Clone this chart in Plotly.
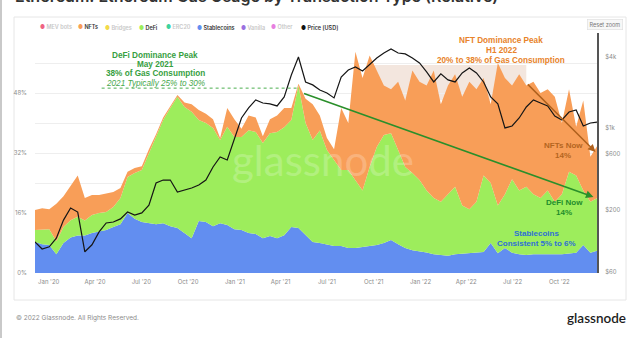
import pandas as pd
import plotly.graph_objects as go

# ---------------------------------------------------------------------------
# Data: share of Ethereum gas used per transaction type (%), every two weeks,
# plus the ETH price (USD) on the same dates.
# ---------------------------------------------------------------------------
dates = pd.date_range("2019-12-05", periods=80, freq="14D")

stablecoins = [
    8.3, 7.7, 7.5, 5.0, 8.0, 9.5, 10.0, 10.0, 10.7, 11.0,
    11.5, 12.3, 13.0, 16.0, 14.5, 13.6, 13.3, 13.0, 13.3, 12.5,
    12.0, 10.7, 9.3, 13.9, 13.6, 12.5, 13.3, 12.8, 11.7, 11.5,
    10.7, 10.4, 9.3, 9.9, 9.3, 10.1, 12.3, 12.0, 10.1, 8.3,
    8.0, 7.5, 7.2, 7.2, 6.7, 6.7, 6.9, 7.2, 7.5, 8.0,
    8.8, 7.7, 6.7, 6.1, 5.9, 5.5, 5.0, 4.8, 4.6, 5.0,
    5.2, 5.3, 5.4, 5.6, 8.0, 5.3, 6.7, 5.4, 5.0, 4.8,
    5.0, 5.0, 4.9, 4.8, 5.0, 5.2, 5.4, 7.5, 5.4, 6.0,
]

defi = [
    3.2, 3.8, 4.2, 3.5, 4.3, 4.6, 5.0, 4.0, 4.8, 5.0,
    4.8, 5.3, 7.0, 9.6, 12.2, 13.9, 18.7, 23.3, 27.5, 31.5,
    35.0, 33.6, 33.7, 26.9, 26.4, 26.2, 22.2, 26.2, 24.6, 24.8,
    27.4, 27.2, 25.4, 27.4, 28.3, 28.8, 28.5, 38.0, 29.9, 27.2,
    30.0, 25.3, 22.8, 20.3, 20.8, 18.1, 15.1, 21.1, 26.1, 28.8,
    28.5, 25.1, 21.6, 20.6, 18.9, 16.5, 15.0, 14.2, 16.4, 18.0,
    12.8, 11.7, 13.6, 20.4, 16.0, 12.7, 14.3, 19.6, 17.0, 18.2,
    16.0, 15.0, 17.1, 14.2, 16.0, 21.8, 20.6, 14.5, 13.6, 14.0,
]

nfts = [
    5.3, 5.8, 5.3, 10.0, 8.2, 9.1, 11.0, 6.0, 5.3, 4.8,
    5.0, 4.0, 2.7, 1.4, 1.3, 1.0, 1.0, 0.7, 0.7, 0.5,
    0.5, 1.2, 2.0, 2.7, 2.5, 2.3, 0.5, 5.0, 4.7, 2.2,
    3.9, 3.9, 1.8, 3.7, 4.4, 5.1, 3.2, 0.5, 6.5, 9.5,
    4.0, 3.2, 3.0, 16.5, 12.5, 34.2, 30.0, 29.7, 20.4, 13.2,
    11.7, 18.2, 17.7, 27.3, 26.2, 28.0, 34.0, 26.0, 29.0, 30.0,
    29.0, 34.0, 30.0, 26.0, 21.0, 38.0, 31.0, 25.0, 31.0, 27.0,
    30.0, 28.0, 27.0, 28.0, 19.0, 22.0, 13.0, 24.0, 12.0, 14.0,
]

price_usd = [
    108, 94, 98, 116, 165, 209, 193, 89, 102, 131,
    156, 159, 169, 193, 182, 190, 221, 340, 360, 360,
    285, 297, 308, 327, 360, 464, 564, 532, 817, 1206,
    1465, 1713, 1615, 1585, 1524, 1815, 2786, 3955, 2432, 2296,
    2080, 1963, 1782, 2680, 3070, 3258, 3013, 3451, 3882, 4276,
    4624, 4276, 4198, 3882, 3524, 2958, 2432, 2844, 2529, 2432,
    2897, 3192, 2897, 2432, 1815, 1585, 993, 1032, 1206, 1493,
    1713, 1615, 1524, 1253, 1159, 1355, 1409, 1032, 1094, 1115,
]

share_ticks = [0, 16, 32, 48]
share_tick_text = ["0%", "16%", "32%", "48%"]
share_minor_ticks = [8, 24, 40, 56]
price_ticks = [60, 200, 600, 1000, 4000]
price_tick_text = ["$60", "$200", "$600", "$1k", "$4k"]

legend_items = [
    ("MEV bots", "#ef6383", False),
    ("NFTs", "#f89e58", True),
    ("Bridges", "#f2da4a", False),
    ("DeFi", "#9ded5c", True),
    ("ERC20", "#3fd39f", False),
    ("Stablecoins", "#628ef0", True),
    ("Vanilla", "#9b70e0", False),
    ("Other", "#e77fe0", False),
    ("Price [USD]", "#111111", True),
]
legend_x = [38, 76, 103, 137, 164, 195, 239, 269, 299]

C_STABLE = "#628ef0"
C_DEFI = "#9ded5c"
C_NFT = "#f89e58"

# ---------------------------------------------------------------------------
# Page geometry helpers (pixel -> paper coordinates)
# ---------------------------------------------------------------------------
W, H = 640, 338
ML, MR, MT, MB = 35, 43, 33, 65
PW, PH = W - ML - MR, H - MT - MB


def px(x):
    return (x - ML) / PW


def py(y):
    return (H - MB - y) / PH


fig = go.Figure()

fig.add_trace(go.Scatter(
    x=dates, y=stablecoins, name="Stablecoins", mode="lines",
    stackgroup="gas", line=dict(width=0, color=C_STABLE), fillcolor=C_STABLE,
))
fig.add_trace(go.Scatter(
    x=dates, y=defi, name="DeFi", mode="lines",
    stackgroup="gas", line=dict(width=0, color=C_DEFI), fillcolor=C_DEFI,
))
fig.add_trace(go.Scatter(
    x=dates, y=nfts, name="NFTs", mode="lines",
    stackgroup="gas", line=dict(width=0, color=C_NFT), fillcolor=C_NFT,
))
fig.add_trace(go.Scatter(
    x=dates, y=price_usd, name="Price [USD]", mode="lines", yaxis="y2",
    line=dict(color="#151515", width=1.2),
))

tick_font = dict(family="Inter", size=6, color="#8c8c8c")

fig.update_layout(
    width=W, height=H,
    margin=dict(l=ML, r=MR, t=MT, b=MB),
    paper_bgcolor="white",
    plot_bgcolor="rgba(0,0,0,0)",
    showlegend=False,
    xaxis=dict(
        type="date", range=["2019-12-05", "2022-12-14"],
        tick0="2020-01-01", dtick="M3", tickformat="%b '%y",
        showgrid=False, zeroline=False, showline=False, ticks="",
        tickfont=tick_font, ticklabelstandoff=4,
    ),
    yaxis=dict(
        range=[0, 64], tickvals=share_ticks, ticktext=share_tick_text,
        showgrid=True, gridcolor="#eeeeee", gridwidth=1,
        minor=dict(tickvals=share_minor_ticks, showgrid=True,
                   gridcolor="#eeeeee", ticks=""),
        zeroline=False, showline=False, ticks="",
        tickfont=tick_font, ticklabelstandoff=7,
    ),
    yaxis2=dict(
        overlaying="y", side="right", type="log", range=[1.77, 3.80],
        tickvals=price_ticks, ticktext=price_tick_text,
        showgrid=False, zeroline=False, ticks="",
        showline=True, linecolor="#555555", linewidth=2,
        tickfont=tick_font, ticklabelstandoff=5,
    ),
)

shapes = [
    # page edge
    dict(type="rect", xref="paper", yref="paper",
         x0=px(0), x1=px(2), y0=py(338), y1=py(0),
         fillcolor="#c9c9c9", line=dict(width=0), layer="below"),
    # chart card
    dict(type="rect", xref="paper", yref="paper",
         x0=px(14), x1=px(626), y0=py(300), y1=py(17),
         fillcolor="white", line=dict(color="#e6e6e6", width=1), layer="below"),
    # H1 2022 highlight band
    dict(type="rect", xref="x", yref="y",
         x0="2021-10-01", x1="2022-07-28", y0=46.1, y1=55.5,
         fillcolor="#f3e6de", line=dict(width=0), layer="below"),
    # DeFi peak guide
    dict(type="line", xref="x", yref="y",
         x0="2020-04-14", x1="2021-05-08", y0=49.3, y1=49.3,
         line=dict(color="#4cae4f", width=1, dash="dot")),
]
fig.update_layout(shapes=shapes)

ann = []


def text_line(text, x, y, color, size=8.2, bold=True, italic=False,
              family="Liberation Sans"):
    body = text
    if bold:
        body = f"<b>{body}</b>"
    if italic:
        body = f"<i>{body}</i>"
    return dict(
        text=body, xref="paper", yref="paper", x=px(x), y=py(y),
        xanchor="center", yanchor="middle", showarrow=False,
        font=dict(family=family, size=size, color=color),
    )


# title (runs off the top of the page)
ann.append(dict(
    text="Ethereum: Ethereum Gas Usage by Transaction Type (Relative)",
    xref="paper", yref="paper", x=px(13), y=py(8.5),
    xanchor="left", yanchor="bottom", showarrow=False,
    font=dict(family="Inter", size=16, color="#333333", weight=600),
))

# legend row
for (label, color, active), lx in zip(legend_items, legend_x):
    txt_color = "#333333" if active else "#c8c8c8"
    ann.append(dict(
        text=f"<span style='color:{color}'>●</span> {label}",
        xref="paper", yref="paper", x=px(lx), y=py(27),
        xanchor="left", yanchor="middle", showarrow=False,
        font=dict(family="Inter", size=5.5, color=txt_color, weight=600),
    ))

# reset zoom button
ann.append(dict(
    text="Reset zoom", xref="paper", yref="paper", x=px(605), y=py(24.5),
    xanchor="center", yanchor="middle", showarrow=False,
    font=dict(family="Inter", size=5.5, color="#777777"),
    bgcolor="#f7f7f7", bordercolor="#dddddd", borderwidth=0.6, borderpad=2,
))

# watermark
ann.append(dict(
    text="glassnode", xref="paper", yref="paper", x=px(323), y=py(160),
    xanchor="center", yanchor="middle", showarrow=False,
    font=dict(family="Lato", size=42, color="rgba(255,255,255,0.22)"),
))

# DeFi peak callout
DEFI_TXT = "#37a03f"
ann.append(text_line("DeFi Dominance Peak", 155, 55, DEFI_TXT))
ann.append(text_line("May 2021", 155, 64.5, DEFI_TXT))
ann.append(text_line("38% of Gas Consumption", 155, 74, DEFI_TXT))
ann.append(text_line("2021 Typically 25% to 30%", 155, 83.5, "#46a84d",
                     bold=False, italic=True))

# NFT peak callout
NFT_TXT = "#e8832a"
ann.append(text_line("NFT Dominance Peak", 501, 40.5, NFT_TXT))
ann.append(text_line("H1 2022", 501, 50.5, NFT_TXT))
ann.append(text_line("20% to 38% of Gas Consumption", 501, 60.5, NFT_TXT))

# current-share callouts
ann.append(text_line("NFTs Now", 563, 145, "#b4651f", size=8))
ann.append(text_line("14%", 563, 155, "#b4651f", size=8))
ann.append(text_line("DeFi Now", 564, 203, "#1f8c2b", size=8))
ann.append(text_line("14%", 564, 212.5, "#1f8c2b", size=8))
ann.append(text_line("Stablecoins", 536, 233.5, "#2e6fd5", size=8))
ann.append(text_line("Consistent 5% to 6%", 536, 243, "#2e6fd5", size=8))

# arrows
ann.append(dict(
    x="2022-12-07", y=20.3, ax="2021-05-14", ay=48.0,
    xref="x", yref="y", axref="x", ayref="y", text="",
    showarrow=True, arrowhead=2, arrowsize=1, arrowwidth=1.5,
    arrowcolor="#2a8f2a",
))
ann.append(dict(
    x="2022-12-11", y=32.3, ax="2022-07-28", ay=50.7,
    xref="x", yref="y", axref="x", ayref="y", text="",
    showarrow=True, arrowhead=2, arrowsize=1, arrowwidth=1.5,
    arrowcolor="#b0621e",
))

# footer
ann.append(dict(
    text="© 2022 Glassnode. All Rights Reserved.",
    xref="paper", yref="paper", x=px(14), y=py(318),
    xanchor="left", yanchor="middle", showarrow=False,
    font=dict(family="Inter", size=6.5, color="#8c8c8c"),
))
ann.append(dict(
    text="glassnode",
    xref="paper", yref="paper", x=px(628), y=py(318),
    xanchor="right", yanchor="middle", showarrow=False,
    font=dict(family="Lato", size=13.5, color="#1c1c1c", weight=600),
))

fig.update_layout(annotations=ann)

fig.write_html("out.html")
